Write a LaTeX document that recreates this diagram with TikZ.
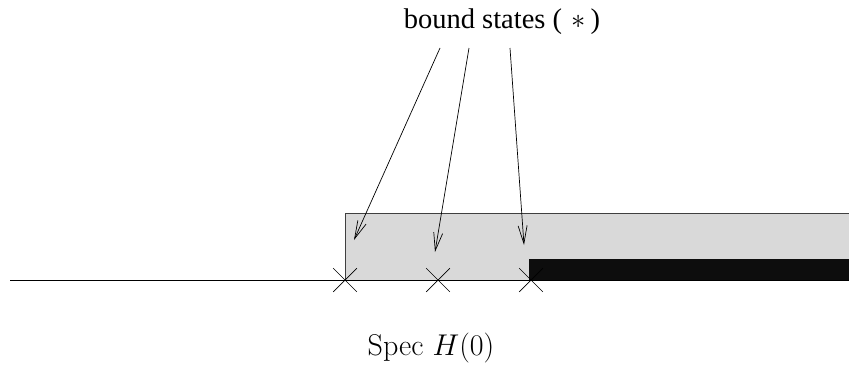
\documentclass[tikz,border=0pt]{standalone}
\usepackage{fix-cm}
\usepackage{fontspec}
\newfontfamily\timesfont{Liberation Serif}
\usetikzlibrary{arrows.meta,shapes.misc}
\definecolor{bandGray}{HTML}{D9D9D9}
\definecolor{edgeGray}{HTML}{404040}
\begin{document}
\begin{tikzpicture}[x=1pt, y=-1pt,
    every node/.style={inner sep=0pt},
    band/.style={fill=bandGray},
    bandedge/.style={draw=edgeGray, line width=0.8pt},
    cont/.style={fill=black!95},
    crossmark/.style={draw, cross out, minimum size=23pt, line width=0.7pt},
    arr/.style={-{Straight Barb[length=18pt,width=9pt]}, line width=0.7pt}]
  \useasboundingbox (0,0) rectangle (849,367);
  \clip (0,0) rectangle (849,367);
  % spectrum
  \fill[band] (345,213) rectangle (860,280);
  \draw[bandedge] (860,213) -- (345,213) -- (345,280);
  \fill[cont] (529,259) rectangle (860,280);
  \draw[line width=0.8pt] (10,280) -- (860,280);
  % eigenvalues
  \node[crossmark] (e1) at (345,280) {};
  \node[crossmark] (e2) at (438,280) {};
  \node[crossmark] (e3) at (531,280) {};
  % labels
  \node[font=\timesfont\fontsize{28.5}{34}\selectfont, anchor=base] (bs) at (502,28) {bound states (\,\,$*$\,)};
  \node[font=\fontsize{30}{36}\selectfont, anchor=base] (spec) at (431,355) {Spec $H(0)$};
  \coordinate (s1) at (440,48);
  \coordinate (s2) at (469,48);
  \coordinate (s3) at (510,48);
  \coordinate (t1) at (354,240);
  \coordinate (t2) at (435,252);
  \coordinate (t3) at (524,245);
  \draw[arr] (s1) -- (t1);
  \draw[arr] (s2) -- (t2);
  \draw[arr] (s3) -- (t3);
\end{tikzpicture}
\end{document}
